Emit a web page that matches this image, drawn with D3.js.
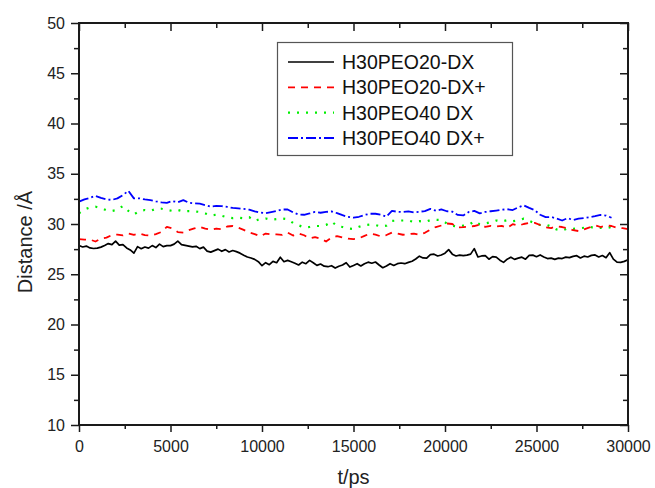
<!DOCTYPE html>
<html>
<head>
<meta charset="utf-8">
<script src="https://cdn.jsdelivr.net/npm/d3@7"></script>
<style>
  html, body { margin: 0; padding: 0; background: #fff; }
  svg { display: block; font-family: "Liberation Sans", Arial, sans-serif; }
</style>
</head>
<body>
<svg id="chart" width="655" height="488"></svg>
<script>
// Series labels, in legend order
const seriesNames = ["H30PEO20-DX", "H30PEO20-DX+", "H30PEO40 DX", "H30PEO40 DX+"];

// Sampling interval (ps) of each trajectory
const stepDX = 200;      // H30PEO20-DX
const stepOther = 300;   // the other three runs

// Distance (Å) vs time, H30PEO20-DX, t = 0..30000 ps
const dist20DX = [
  27.87,27.71,27.8,27.62,27.56,27.6,27.7,27.87,28.05,27.95,
  28.3,27.9,27.95,27.62,27.42,27.1,27.75,27.54,27.71,27.6,
  27.85,27.65,28.0,27.75,27.85,27.85,28.0,28.3,27.95,27.88,
  27.8,27.72,27.78,27.55,27.7,27.3,27.2,27.35,27.5,27.28,
  27.45,27.22,27.36,27.25,27.1,26.9,26.72,26.62,26.48,26.25,
  25.85,
  26.15,25.95,26.28,26.15,26.7,26.25,26.38,26.25,26.1,
  25.92,26.2,26.05,26.38,26.15,25.88,26.02,25.8,25.75,25.85,
  25.62,25.8,25.92,26.15,25.72,25.88,26.05,25.82,26.05,26.2,
  26.1,26.22,25.92,25.65,25.82,26.05,25.88,26.05,26.12,26.05,
  26.18,26.3,26.52,26.8,26.62,26.6,26.95,27.0,26.82,26.92,
  27.1,27.45,27.0,26.82,26.9,26.85,26.9,27.0,27.55,26.72,
  26.82,26.85,26.5,26.75,26.7,26.4,26.18,26.5,26.7,26.48,
  26.6,26.7,26.5,26.88,26.9,26.75,26.92,26.72,26.56,26.6,
  26.48,26.6,26.56,26.7,26.65,26.78,26.85,26.62,26.8,26.72,
  26.88,26.92,26.72,26.86,26.65,27.15,26.5,26.2,26.18,26.28,
  26.45
];

// H30PEO20-DX+, t = 0..30000 ps
const dist20DXp = [
  28.5,28.45,28.45,28.26,28.55,28.64,28.9,28.95,28.86,29.05,
  28.92,29.06,28.9,28.85,29.0,29.2,29.72,29.55,29.2,29.15,
  29.38,29.56,29.72,29.55,29.42,29.55,29.48,29.75,29.8,29.63,
  29.42,29.15,29.0,28.78,
  29.05,28.97,28.97,28.92,29.15,28.85,29.05,28.88,28.58,28.7,
  28.55,28.26,28.64,28.8,28.67,28.54,28.5,28.58,28.82,29.04,
  28.95,28.76,28.9,29.15,29.05,28.93,28.98,29.05,28.92,29.12,
  29.45,29.7,29.85,
  30.05,30.0,29.65,29.68,29.73,29.8,29.95,29.72,29.82,29.75,
  29.82,29.62,29.98,29.83,30.0,30.1,30.12,29.9,29.68,29.6,
  29.77,29.7,29.58,29.38,29.3,29.46,29.66,29.88,29.7,29.85,
  29.8,29.62,29.58,29.5
];

// H30PEO40 DX, t = 0..29100 ps
const dist40DX = [
  31.06,31.45,31.65,31.72,31.6,31.36,31.3,31.4,31.8,31.3,
  30.95,31.3,31.39,31.3,31.5,31.52,31.4,31.3,31.39,31.25,
  31.28,31.26,31.2,31.05,30.85,30.93,30.82,30.66,30.58,30.63,
  30.57,30.68,30.3,30.5,
  30.55,30.42,30.48,30.55,30.48,30.1,29.87,29.66,29.7,29.8,
  29.8,29.9,30.25,29.8,29.7,29.55,29.5,29.72,29.88,29.94,
  29.9,29.75,29.83,30.3,30.35,30.35,30.35,30.2,30.28,30.2,
  30.38,30.42,30.4,
  30.05,29.82,29.75,29.83,29.9,30.28,29.97,30.06,30.18,30.35,
  30.26,30.38,30.28,30.36,30.53,30.32,30.07,29.9,29.95,29.75,
  29.45,29.35,29.55,29.52,29.56,29.63,29.73,29.58,29.62,29.6,
  29.7
];

// H30PEO40 DX+, t = 0..29100 ps
const dist40DXp = [
  32.22,32.45,32.6,32.8,32.6,32.45,32.4,32.55,32.88,33.3,
  32.55,32.55,32.45,32.38,32.25,32.15,32.1,32.28,32.16,32.38,
  32.12,32.06,32.02,31.88,31.74,31.8,31.78,31.7,31.6,31.56,
  31.5,31.42,31.25,31.14,
  31.07,31.18,31.3,31.44,31.45,31.15,30.94,30.92,31.05,31.2,
  31.12,31.2,31.25,31.08,30.88,30.7,30.63,30.72,30.9,31.02,
  31.02,30.92,30.74,31.3,31.22,31.2,31.26,31.16,31.22,31.28,
  31.5,31.32,31.45,
  31.27,31.23,30.9,30.85,31.2,31.3,31.06,31.2,31.27,31.34,
  31.42,31.47,31.39,31.65,31.86,31.6,31.38,30.92,30.68,30.7,
  30.55,30.35,30.58,30.4,30.54,30.6,30.68,30.78,30.9,30.84,
  30.62
];

// Axis ticks
const xMajorTicks = [0, 5000, 10000, 15000, 20000, 25000, 30000];
const xMinorTicks = [2500, 7500, 12500, 17500, 22500, 27500];
const yMajorTicks = [10, 15, 20, 25, 30, 35, 40, 45, 50];
const yMinorTicks = [12.5, 17.5, 22.5, 27.5, 32.5, 37.5, 42.5, 47.5];

const xLabel = "t/ps";
const yLabel = "Distance /Å";

// ---- drawing ----
const svg = d3.select("#chart");
const x = d3.scaleLinear().domain([0, 30000]).range([79, 628]);
const y = d3.scaleLinear().domain([10, 50]).range([425, 23]);

const axisColor = "#1a1a1a";

const series = [
  { name: seriesNames[0], values: dist20DX,  step: stepDX,    color: "#000000", dash: null,       width: 1.7 },
  { name: seriesNames[1], values: dist20DXp, step: stepOther, color: "#ff0000", dash: "7,6",      width: 1.8 },
  { name: seriesNames[2], values: dist40DX,  step: stepOther, color: "#00ee00", dash: "2,7",      width: 2.2 },
  { name: seriesNames[3], values: dist40DXp, step: stepOther, color: "#0000ff", dash: "10,3,2,3", width: 1.8 }
];

const line = d3.line()
  .x(d => x(d[0]))
  .y(d => y(d[1]));

const plot = svg.append("g");
// draw in reverse so the solid trace sits under nothing important
series.slice().reverse().forEach(s => {
  const pts = s.values.map((v, i) => [i * s.step, v]);
  plot.append("path")
    .datum(pts)
    .attr("fill", "none")
    .attr("stroke", s.color)
    .attr("stroke-width", s.width)
    .attr("stroke-dasharray", s.dash)
    .attr("stroke-linejoin", "round")
    .attr("d", line);
});

function styleAxis(g) {
  g.select(".domain").remove();
  g.selectAll(".tick line").attr("stroke", axisColor).attr("stroke-width", 1.5);
  g.selectAll(".tick text").attr("fill", "#222").style("font-size", "16px")
    .style("font-family", "'Liberation Sans', Arial, sans-serif");
}

// bottom axis (labels + outward ticks)
svg.append("g").attr("transform", `translate(0,${y(10)})`)
  .call(d3.axisBottom(x).tickValues(xMajorTicks).tickSize(7).tickPadding(9).tickFormat(d3.format("d")))
  .call(styleAxis);
svg.append("g").attr("transform", `translate(0,${y(10)})`)
  .call(d3.axisBottom(x).tickValues(xMinorTicks).tickSize(4).tickFormat(""))
  .call(styleAxis);

// left axis
svg.append("g").attr("transform", `translate(${x(0)},0)`)
  .call(d3.axisLeft(y).tickValues(yMajorTicks).tickSize(8).tickPadding(6).tickFormat(d3.format("d")))
  .call(styleAxis);
svg.append("g").attr("transform", `translate(${x(0)},0)`)
  .call(d3.axisLeft(y).tickValues(yMinorTicks).tickSize(5).tickFormat(""))
  .call(styleAxis);

// top axis (inward ticks)
svg.append("g").attr("transform", `translate(0,${y(50)})`)
  .call(d3.axisTop(x).tickValues(xMajorTicks).tickSize(-8).tickFormat(""))
  .call(styleAxis);
svg.append("g").attr("transform", `translate(0,${y(50)})`)
  .call(d3.axisTop(x).tickValues(xMinorTicks).tickSize(-5).tickFormat(""))
  .call(styleAxis);

// right axis (inward ticks)
svg.append("g").attr("transform", `translate(${x(30000)},0)`)
  .call(d3.axisRight(y).tickValues(yMajorTicks).tickSize(-8).tickFormat(""))
  .call(styleAxis);
svg.append("g").attr("transform", `translate(${x(30000)},0)`)
  .call(d3.axisRight(y).tickValues(yMinorTicks).tickSize(-5).tickFormat(""))
  .call(styleAxis);

// frame
svg.append("rect")
  .attr("x", x(0)).attr("y", y(50))
  .attr("width", x(30000) - x(0)).attr("height", y(10) - y(50))
  .attr("fill", "none").attr("stroke", axisColor).attr("stroke-width", 2);

// axis titles
svg.append("text")
  .attr("x", (x(0) + x(30000)) / 2).attr("y", 484)
  .attr("text-anchor", "middle")
  .style("font-size", "20px").attr("fill", "#222")
  .text(xLabel);

svg.append("text")
  .attr("transform", `translate(32,242) rotate(-90)`)
  .attr("text-anchor", "middle")
  .style("font-size", "20px").attr("fill", "#222")
  .text(yLabel);

// legend
const legend = svg.append("g");
legend.append("rect")
  .attr("x", 277.5).attr("y", 42.5).attr("width", 235).attr("height", 113)
  .attr("fill", "#fff").attr("stroke", "#555").attr("stroke-width", 1.2);

const rowY = d3.scalePoint().domain(seriesNames).range([62, 138]);
series.forEach(s => {
  const yy = rowY(s.name);
  legend.append("line")
    .attr("x1", 288).attr("x2", 334).attr("y1", yy).attr("y2", yy)
    .attr("stroke", s.color).attr("stroke-width", s.width)
    .attr("stroke-dasharray", s.dash);
  legend.append("text")
    .attr("x", 342).attr("y", yy + 7)
    .style("font-size", "19.5px").attr("fill", "#111")
    .text(s.name);
});
</script>
</body>
</html>
